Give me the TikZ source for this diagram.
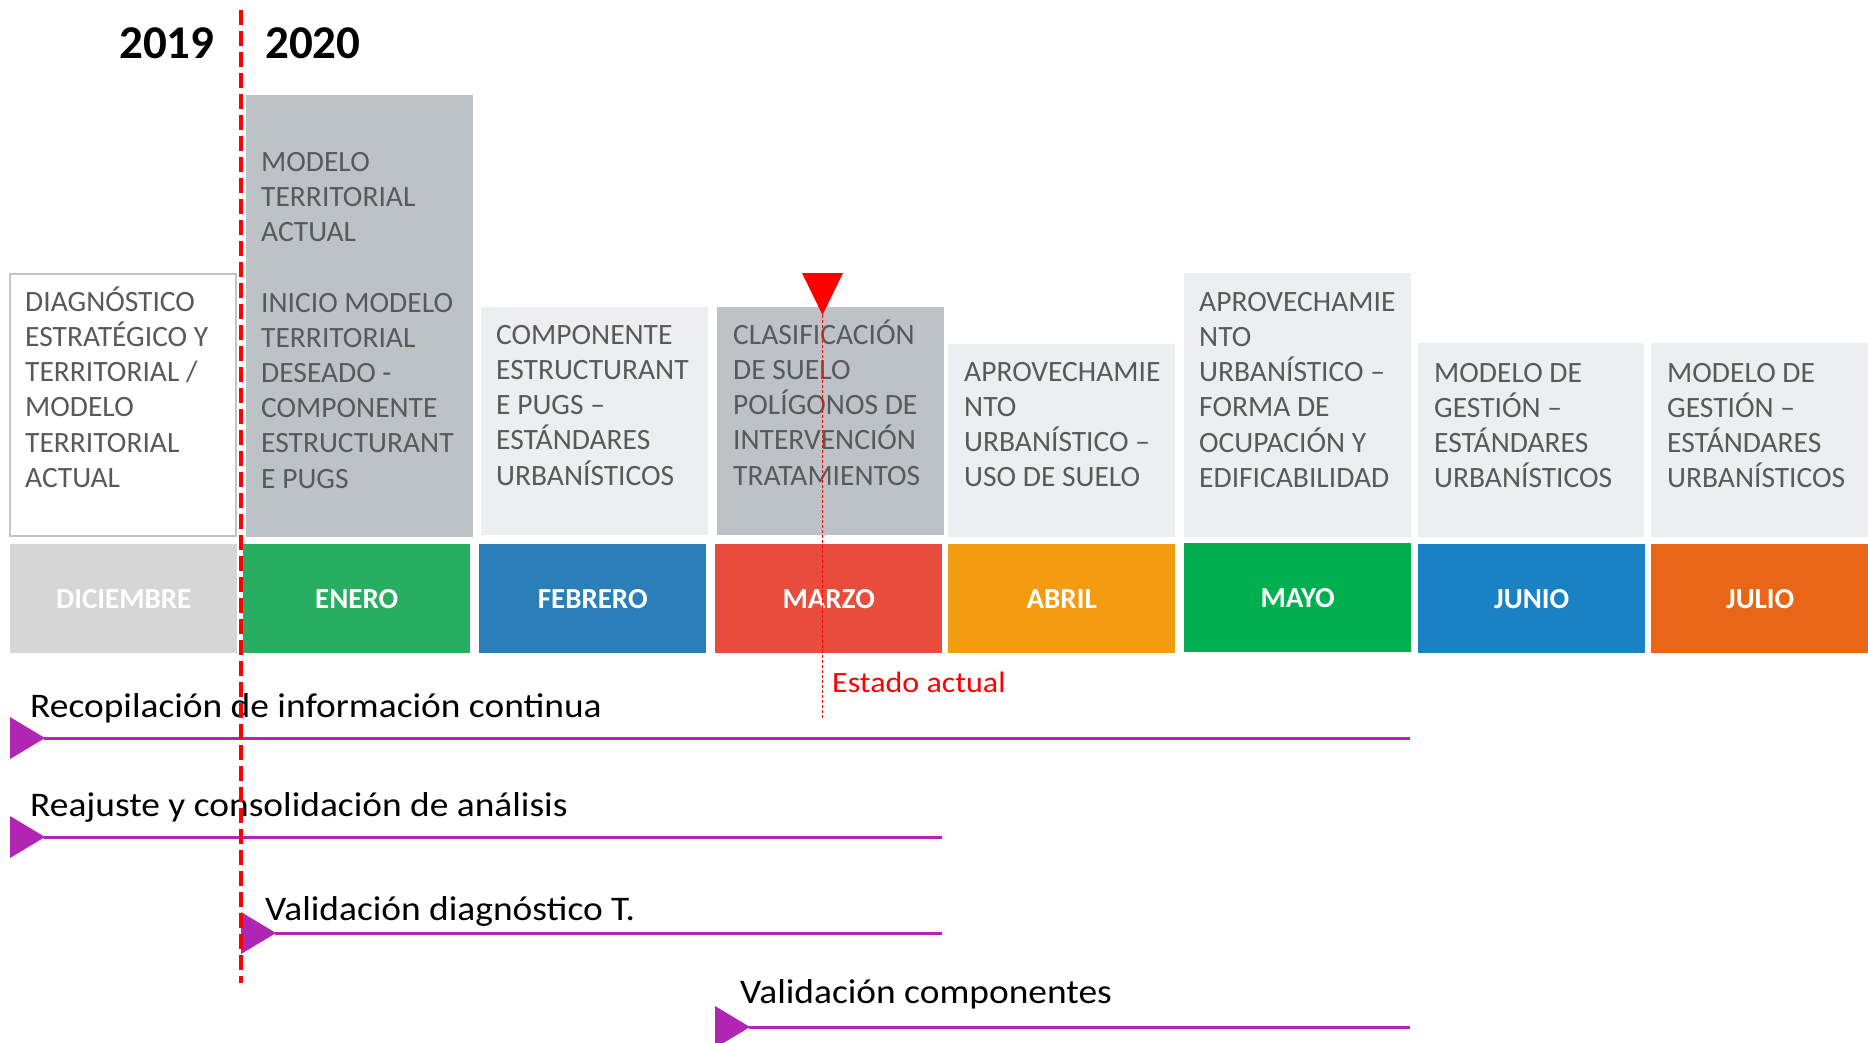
\documentclass[tikz,border=0pt]{standalone}
\usepackage{fontspec}
\setmainfont{Carlito}
\newfontfamily\widefont[FakeStretch=1.085]{Carlito}
\definecolor{txtgray}{HTML}{595959}
\definecolor{boxlight}{HTML}{ECEFF0}
\definecolor{boxdark}{HTML}{BDC2C6}
\definecolor{dicbar}{HTML}{D6D6D6}
\definecolor{dicborder}{HTML}{C4C4C4}
\definecolor{cenero}{HTML}{27AE60}
\definecolor{cfeb}{HTML}{2A7FB8}
\definecolor{cmar}{HTML}{E74C3C}
\definecolor{cabr}{HTML}{F39C12}
\definecolor{cmay}{HTML}{00B050}
\definecolor{cjun}{HTML}{1A82C4}
\definecolor{cjul}{HTML}{E96616}
\definecolor{mag}{HTML}{B125B4}
\definecolor{pureRed}{HTML}{FF0000}
\begin{document}
\begin{tikzpicture}[x=1pt,y=-1pt,
  boxtxt/.style={inner sep=0pt, anchor=north west, align=left, text=txtgray,
    font=\fontsize{29.5}{35.2}\selectfont},
  monthbar/.style={inner sep=0pt, anchor=north west, minimum width=227pt,
    minimum height=109pt, text=white, font=\fontsize{29}{34}\selectfont\bfseries},
  yearlbl/.style={inner sep=0pt, anchor=base west, font=\fontsize{47}{50}\selectfont\bfseries},
  tasklbl/.style={inner sep=0pt, anchor=base west, font=\widefont\fontsize{34.5}{40}\selectfont},
  taskline/.style={draw=mag, line width=3pt},
  taskhead/.style={fill=mag},
  yeardiv/.style={draw=pureRed, line width=3.5pt, dash pattern=on 15pt off 6pt},
  nowline/.style={draw=pureRed, line width=1pt, dash pattern=on 3pt off 2pt}
]
\useasboundingbox (0,0) rectangle (1868,1043);
\fill[white] (0,0) rectangle (1868,1043);

% year labels
\node[yearlbl] (y19) at (119,59) {2019};
\node[yearlbl] (y20) at (265,59) {2020};

% top boxes
\draw[dicborder, line width=2.5pt, fill=white] (10,274) rectangle (236,536);
\fill[boxdark]  (246,95)  rectangle (473,537);
\fill[boxlight] (481,307) rectangle (708,535);
\fill[boxdark]  (717,307) rectangle (944,535);
\fill[boxlight] (948,344) rectangle (1175,537);
\fill[boxlight] (1184,273) rectangle (1411,537);
\fill[boxlight] (1418,343) rectangle (1644,537);
\fill[boxlight] (1651,343) rectangle (1868,537);

% box texts
\node[boxtxt] (tdic) at (25,283) {\rule{0pt}{28pt}DIAGNÓSTICO\\ESTRATÉGICO Y\\TERRITORIAL /\\MODELO\\TERRITORIAL\\ACTUAL};
\node[boxtxt] (tene) at (261,143) {\rule{0pt}{28pt}MODELO\\TERRITORIAL\\ACTUAL\\[35.2pt]INICIO MODELO\\TERRITORIAL\\DESEADO -\\COMPONENTE\\ESTRUCTURANT\\E PUGS};
\node[boxtxt] (tfeb) at (496,316) {\rule{0pt}{28pt}COMPONENTE\\ESTRUCTURANT\\E PUGS –\\ESTÁNDARES\\URBANÍSTICOS};
\node[boxtxt] (tmar) at (733,316) {\rule{0pt}{28pt}CLASIFICACIÓN\\DE SUELO\\POLÍGONOS DE\\INTERVENCIÓN\\TRATAMIENTOS};
\node[boxtxt] (tabr) at (964,353) {\rule{0pt}{28pt}APROVECHAMIE\\NTO\\URBANÍSTICO –\\USO DE SUELO};
\node[boxtxt] (tmay) at (1199,283) {\rule{0pt}{28pt}APROVECHAMIE\\NTO\\URBANÍSTICO –\\FORMA DE\\OCUPACIÓN Y\\EDIFICABILIDAD};
\node[boxtxt] (tjun) at (1434,354) {\rule{0pt}{28pt}MODELO DE\\GESTIÓN –\\ESTÁNDARES\\URBANÍSTICOS};
\node[boxtxt] (tjul) at (1667,354) {\rule{0pt}{28pt}MODELO DE\\GESTIÓN –\\ESTÁNDARES\\URBANÍSTICOS};

% month bars
\node[monthbar, fill=dicbar, text=white] (mdic) at (10,544) {DICIEMBRE};
\node[monthbar, fill=cenero] (mene) at (243,544) {ENERO};
\node[monthbar, fill=cfeb] (mfeb) at (479,544) {FEBRERO};
\node[monthbar, fill=cmar] (mmar) at (715,544) {MARZO};
\node[monthbar, fill=cabr] (mabr) at (948,544) {ABRIL};
\node[monthbar, fill=cmay] (mmay) at (1184,543) {MAYO};
\node[monthbar, fill=cjun] (mjun) at (1418,544) {JUNIO};
\node[monthbar, fill=cjul, minimum width=218pt] (mjul) at (1651,544) {JULIO};

% current state marker
\fill[pureRed] (802,273) -- (843,273) -- (822.5,315) -- cycle;
\coordinate (nowtop) at (822,315);
\coordinate (nowbot) at (822,718);
\draw[nowline] (nowtop) -- (nowbot);
\node[inner sep=0pt, anchor=base west, text=pureRed, font=\widefont\fontsize{29.5}{34}\selectfont] (estado) at (832,692) {Estado actual};

% tasks
\node[tasklbl] (l1) at (30,717) {Recopilación de información continua};
\node[tasklbl] (l2) at (30,816) {Reajuste y consolidación de análisis};
\node[tasklbl] (l3) at (265,920) {Validación diagnóstico T.};
\node[tasklbl] (l4) at (740,1003) {Validación componentes};

\coordinate (s1) at (44,738);   \coordinate (e1) at (1410,738);
\coordinate (s2) at (44,837);   \coordinate (e2) at (942,837);
\coordinate (s3) at (275,933);  \coordinate (e3) at (942,933);
\coordinate (s4) at (749,1027); \coordinate (e4) at (1410,1027);
\draw[taskline] (s1) -- (e1);
\draw[taskline] (s2) -- (e2);
\draw[taskline] (s3) -- (e3);
\draw[taskline] (s4) -- (e4);
\fill[taskhead] (10,717) -- (45,738) -- (10,759) -- cycle;
\fill[taskhead] (10,816) -- (45,837) -- (10,858) -- cycle;
\fill[taskhead] (241,912) -- (276,933) -- (241,954) -- cycle;
\fill[taskhead] (715,1006) -- (750,1027) -- (715,1048) -- cycle;

% year divider
\coordinate (dtop) at (241,10);
\coordinate (dbot) at (241,983);
\draw[yeardiv] (dtop) -- (dbot);
\end{tikzpicture}
\end{document}
